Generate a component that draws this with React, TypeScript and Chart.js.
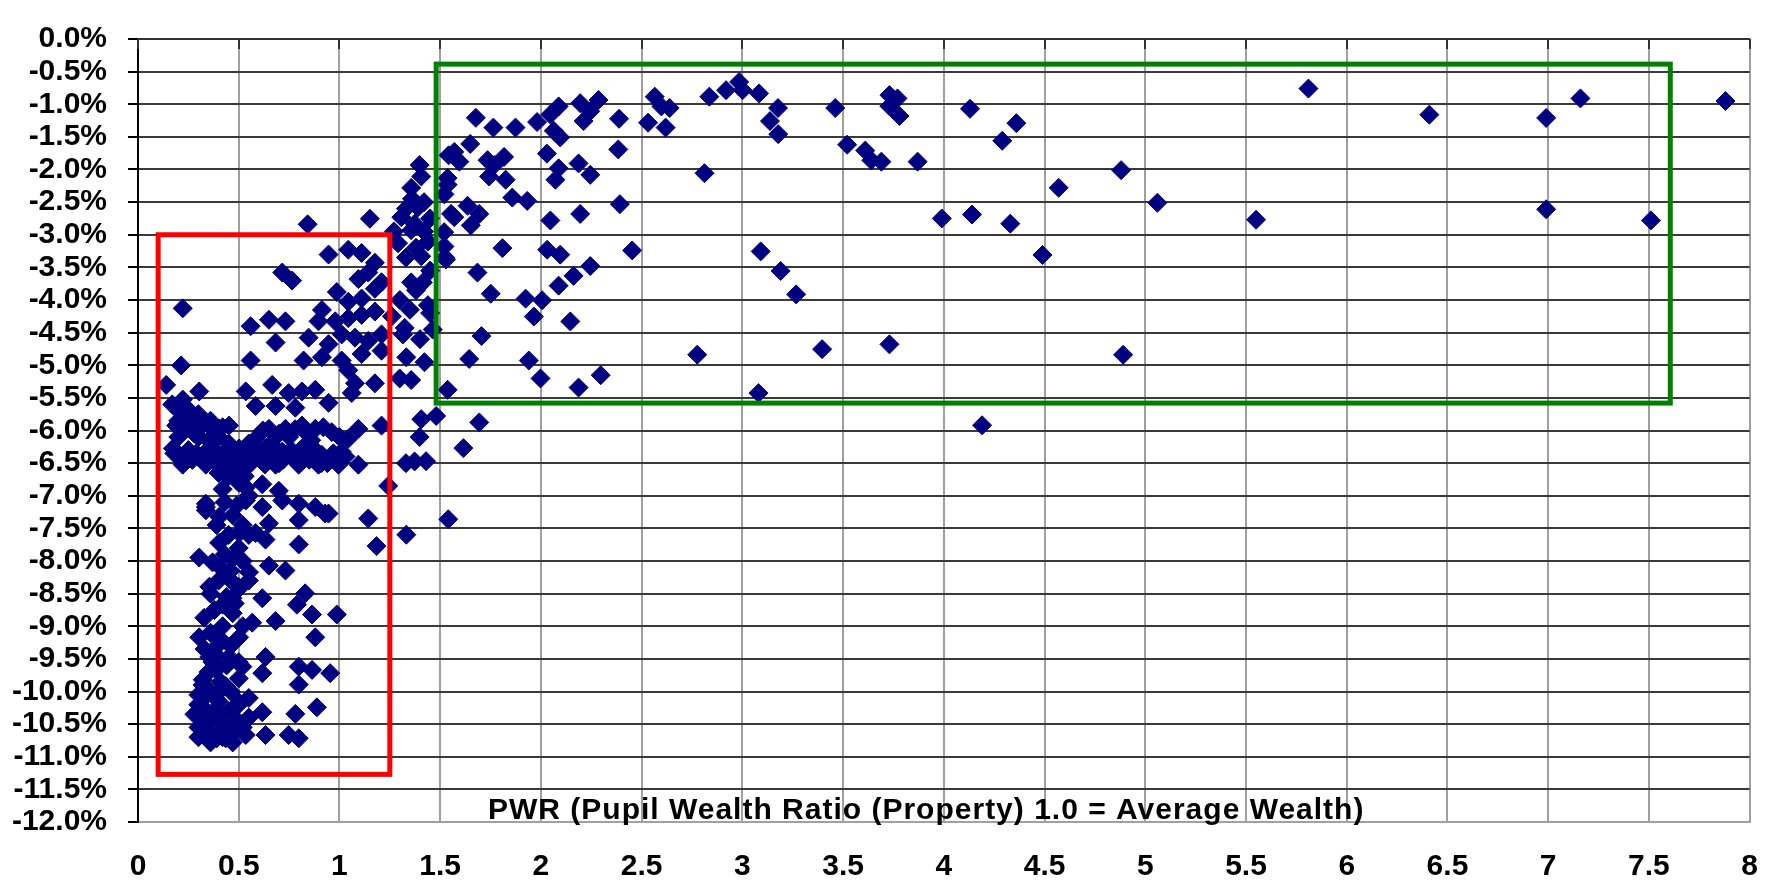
import React, { useEffect, useRef } from "react";
import { Chart, registerables } from "chart.js";

Chart.register(...registerables);

// PWR (x) values
const pwrValues: number[] = [
  // sparse right region
  3.73, 3.77, 3.73, 3.78, 4.13, 4.36, 4.29, 3.52, 3.61, 3.64, 3.69, 3.87, 4.88, 4.57, 5.06, 3.99, 4.14, 4.33, 5.55, 6.99, 7.51, 4.49, 3.73, 4.89, 4.19, 5.81, 6.41, 6.99, 7.16, 7.88,
  // middle region
  1.677, 1.764, 1.874, 1.981, 2.088, 2.047, 2.064, 2.096, 2.195, 2.286, 2.212, 2.245, 2.388, 2.565, 2.598, 2.639, 2.532, 2.619, 2.836, 2.919, 2.984, 3.001, 3.083, 3.177, 3.137, 3.178, 3.461,
  1.649, 1.542, 1.57, 1.595, 1.735, 1.817, 1.768, 1.743, 1.825, 1.858, 1.932, 2.03, 2.384, 2.088, 2.187, 2.245, 2.072, 2.812, 2.392, 2.195, 2.047, 1.636, 1.694, 1.57, 1.652, 1.537, 1.521,
  1.398, 1.356, 1.406, 1.389, 1.307, 1.373, 1.809, 2.031, 2.096, 2.453, 3.091, 3.19, 3.267, 2.245, 2.162, 2.088, 2.006, 1.924, 1.965, 2.146, 1.685, 1.751, 1.705, 1.644, 1.94, 1.998, 2.187, 2.297, 2.776, 3.396, 3.08,
  1.537, 1.694, 1.529, 1.521, 1.439, 1.356, 1.291, 1.406, 1.356, 1.414, 1.439, 1.463, 1.324, 1.315, 1.332, 1.422, 1.299, 1.356, 1.48, 1.406, 1.398, 1.537, 1.554,
  1.54, 1.615, 1.33, 1.43, 1.373, 1.52, 1.525,
  1.36, 1.42, 1.33, 1.45, 1.27, 1.42, 1.38, 1.33, 1.45, 1.38, 1.45, 1.3, 1.26, 1.35, 1.4,
  // left cluster upper
  0.842, 1.151, 0.946, 1.044, 1.11, 1.176, 1.143, 1.094, 0.987, 1.044, 1.11, 1.176, 1.209, 0.913, 0.896, 0.979, 1.044, 1.11, 1.176, 0.847, 0.946, 1.011, 1.077, 1.143, 1.209, 1.209, 0.913, 1.011, 1.11, 1.044, 1.176, 1.077, 1.061, 0.822,
  0.716, 0.765, 0.222, 0.559, 0.65, 0.732, 0.683, 0.559, 0.214, 0.14, 0.666, 0.748, 0.814, 0.88, 0.946, 0.535, 0.304, 0.222, 0.584, 0.683, 0.781, 0.206, 0.255, 0.337, 0.403, 0.452, 0.189,
  0.173, 0.255, 0.337, 0.419, 0.502, 0.584, 0.65, 0.732, 0.814, 0.88, 0.962, 1.044, 1.094, 0.617, 0.716, 0.814, 0.913, 1.011, 1.094, 1.209, 1.242,
  0.222, 0.337, 0.452, 0.535, 0.683, 0.798, 0.896, 0.995, 0.535, 0.617, 0.699, 0.337,
  0.27, 0.37, 0.47, 0.56, 0.64, 0.72, 0.76, 0.85, 0.94, 1.0, 0.66, 0.75, 0.86, 0.55, 0.45, 0.2, 0.3,
  0.18, 0.22, 0.25, 0.29, 0.33, 0.38, 0.41, 0.44, 0.49, 0.52, 0.58, 0.6, 0.63, 0.68, 0.7, 0.78, 0.82, 0.88, 0.91, 0.97, 1.03,
  0.17, 0.21, 0.24, 0.27, 0.3, 0.32, 0.36, 0.38, 0.42, 0.24, 0.2, 0.28, 0.35, 0.4,
  0.62, 0.7, 0.78, 0.84, 0.92, 1.0,
  // left cluster lower
  0.337, 0.403, 0.535, 0.617, 0.716, 0.798, 0.929, 0.88, 0.798, 0.65, 0.584, 1.143, 1.332, 1.184, 0.798, 0.633, 0.502, 0.403, 0.304, 0.37, 0.469, 0.551, 0.65, 0.732, 0.452, 0.354, 0.502, 0.617, 0.42, 0.469,
  0.83, 0.789, 0.864, 0.683, 0.567, 0.987, 0.329, 0.304, 0.88, 0.502, 0.403, 0.452, 0.354, 0.633, 0.518, 0.617, 0.798, 0.864, 0.954, 0.798, 0.387, 0.321, 0.337, 0.436, 0.304, 0.387, 0.502, 0.617, 0.781, 0.888,
  0.337, 0.42, 0.485, 0.354, 0.436, 0.535, 0.633, 0.748, 0.798, 0.337, 0.946,
  0.45, 0.5, 0.42, 0.55, 0.47, 0.52, 0.45, 0.5, 0.43, 0.52, 0.46, 0.4, 0.5, 0.44, 0.38, 0.47, 0.42, 0.36, 0.46, 0.39, 0.44, 0.35, 0.41, 0.46, 0.36, 0.4, 0.45, 0.34, 0.38, 0.44, 0.3, 0.35, 0.48, 0.42, 0.3, 0.32,
  0.4, 0.48, 0.53, 0.43, 0.49, 0.39, 0.55, 0.41, 0.55, 0.36, 0.48, 0.52, 0.41, 0.33, 0.5, 0.37, 0.32, 0.42, 0.5, 0.3, 0.4, 0.48, 0.33, 0.39, 0.45, 0.52, 0.55, 0.5, 0.55, 0.28, 0.3, 0.36, 0.47,
];

// Change (%) values, same order as pwrValues
const changeValues: number[] = [
  -0.86, -0.91, -1.03, -1.18, -1.07, -1.29, -1.56, -1.62, -1.71, -1.86, -1.88, -1.88, -2.01, -2.28, -2.51, -2.75, -2.69, -2.83, -2.77, -2.61, -2.78, -3.31, -4.68, -4.84, -5.92, -0.76, -1.16, -1.21, -0.91, -0.95,
  -1.208, -1.358, -1.358, -1.273, -1.033, -1.158, -1.408, -1.508, -0.983, -0.934, -1.258, -1.108, -1.223, -0.884, -1.033, -1.058, -1.283, -1.358, -0.884, -0.784, -0.659, -0.784, -0.834, -1.058, -1.258, -1.458, -1.058,
  -1.608, -1.783, -1.73, -1.88, -1.857, -1.807, -1.932, -2.107, -2.157, -2.431, -2.481, -1.757, -1.692, -1.982, -1.907, -2.082, -2.157, -2.057, -2.531, -2.681, -2.781, -2.556, -2.681, -2.73, -2.856, -2.232, -2.381,
  -1.932, -2.282, -2.107, -2.581, -2.731, -2.831, -3.205, -3.23, -3.305, -3.24, -3.255, -3.555, -3.914, -3.48, -3.63, -3.78, -4.004, -3.979, -4.254, -4.328, -3.58, -3.904, -4.553, -4.903, -4.927, -5.202, -5.342, -5.152, -4.838, -4.753, -5.427,
  -5.377, -5.876, -3.38, -3.18, -3.105, -2.93, -3.13, -3.33, -3.73, -3.73, -4.079, -4.453, -4.428, -4.528, -4.878, -4.953, -5.202, -5.227, -5.777, -5.826, -6.1, -2.132, -2.68,
  -7.36, -6.27, -6.5, -6.47, -6.474, -2.96, -3.35,
  -2.45, -2.5, -2.6, -2.75, -2.95, -2.95, -3.2, -3.35, -3.55, -3.85, -4.2, -4.0, -4.25, -4.15, -4.6,
  -2.84, -2.755, -3.304, -3.229, -3.279, -3.429, -3.579, -3.679, -3.878, -4.028, -3.978, -3.828, -3.728, -4.153, -4.327, -4.327, -4.278, -4.228, -4.178, -4.577, -4.677, -4.527, -4.577, -4.627, -4.527, -4.777, -4.877, -4.927, -4.827, -5.077, -5.277, -5.277, -5.426, -4.927,
  -3.579, -3.703, -4.128, -4.402, -4.303, -4.327, -4.652, -4.927, -5.002, -5.301, -5.301, -5.426, -5.401, -5.376, -5.576, -5.401, -5.401, -5.526, -5.625, -5.625, -5.65, -5.675, -5.775, -5.875, -5.975, -5.925, -5.925,
  -6.275, -6.374, -6.325, -6.374, -6.275, -6.125, -5.975, -5.975, -5.925, -5.975, -6.025, -6.125, -5.975, -6.374, -6.325, -6.275, -6.374, -6.325, -6.524, -5.925, -6.849,
  -6.524, -6.524, -6.524, -6.474, -6.524, -6.524, -6.524, -6.524, -6.874, -6.824, -6.924, -7.123,
  -6.45, -6.45, -6.4, -6.5, -6.45, -6.45, -6.3, -6.45, -6.5, -6.45, -6.2, -6.1, -6.15, -6.2, -6.2, -6.1, -6.1,
  -6.35, -6.45, -6.3, -6.35, -6.42, -6.3, -6.45, -6.35, -6.48, -6.35, -6.42, -6.3, -6.52, -6.35, -6.5, -6.45, -6.35, -6.3, -6.5, -6.35, -6.4,
  -5.6, -5.72, -5.65, -5.82, -5.75, -5.92, -5.85, -6.0, -5.95, -5.95, -5.85, -6.05, -6.15, -6.1,
  -6.0, -6.05, -5.98, -6.05, -5.95, -6.1,
  -7.223, -7.323, -7.073, -7.173, -7.073, -7.123, -7.273, -7.173, -7.373, -7.423, -7.572, -7.348, -7.597, -7.772, -7.747, -7.672, -7.572, -7.722, -7.947, -8.021, -7.971, -8.171, -8.071, -8.146, -8.271, -8.396, -8.421, -8.571, -8.67, -8.571,
  -8.496, -8.67, -8.82, -8.92, -8.945, -8.82, -8.87, -9.17, -9.17, -9.17, -9.27, -9.47, -9.47, -9.47, -9.619, -9.719, -9.619, -9.669, -9.719, -9.894, -9.669, -9.819, -10.068, -9.919, -10.218, -10.268, -10.168, -10.318, -10.343, -10.243,
  -10.468, -10.518, -10.418, -10.717, -10.717, -10.667, -10.667, -10.667, -10.717, -7.173, -7.273,
  -6.7, -6.8, -6.9, -7.0, -7.3, -7.45, -7.6, -7.8, -7.9, -8.0, -8.15, -8.3, -8.4, -8.55, -8.75, -8.8, -9.0, -9.1, -9.3, -9.45, -9.6, -9.7, -9.85, -10.0, -10.0, -10.15, -10.3, -10.3, -10.4, -10.55, -10.55, -10.6, -10.6, -10.7, -10.2, -10.45,
  -6.65, -6.6, -6.7, -7.1, -7.15, -7.45, -7.6, -8.1, -8.3, -8.5, -8.65, -9.0, -9.2, -9.35, -9.55, -9.55, -9.9, -9.95, -9.8, -10.05, -10.35, -10.45, -10.62, -10.72, -10.7, -10.55, -10.4, -10.2, -10.1, -10.35, -10.7, -10.78, -10.78,
];

// Highlight boxes: [xMin, xMax, yTop, yBottom]
const redBox: number[] = [0.1, 1.25, -3.0, -11.27];
const greenBox: number[] = [1.48, 7.606, -0.385, -5.58];

const xTickStep = 0.5;
const yTickStep = 0.5;
const axisTitle = "PWR (Pupil Wealth Ratio (Property) 1.0 = Average Wealth)";

const FONT = '"Liberation Sans", Arial, sans-serif';

export default function App() {
  const canvasRef = useRef<HTMLCanvasElement | null>(null);

  useEffect(() => {
    const canvas = canvasRef.current;
    if (!canvas) return;
    const points = pwrValues.map((x, i) => ({ x, y: changeValues[i] }));

    const overlay = {
      id: "overlay",
      afterDatasetsDraw(chart: any) {
        const { ctx, chartArea, scales } = chart;
        const xs = scales.x;
        const ys = scales.y;
        ctx.save();
        // top axis line with inside ticks
        ctx.strokeStyle = "#333333";
        ctx.lineWidth = 2;
        ctx.beginPath();
        ctx.moveTo(chartArea.left, chartArea.top);
        ctx.lineTo(chartArea.right, chartArea.top);
        ctx.stroke();
        for (let v = 0; v <= 8 + 1e-9; v += xTickStep) {
          const px = Math.round(xs.getPixelForValue(v));
          ctx.beginPath();
          ctx.moveTo(px, chartArea.top);
          ctx.lineTo(px, chartArea.top + 10);
          ctx.stroke();
        }
        // boxes
        const drawBox = (b: number[], color: string) => {
          const x1 = xs.getPixelForValue(b[0]);
          const x2 = xs.getPixelForValue(b[1]);
          const y1 = ys.getPixelForValue(b[2]);
          const y2 = ys.getPixelForValue(b[3]);
          ctx.strokeStyle = color;
          ctx.lineWidth = 5;
          ctx.strokeRect(x1, y1, x2 - x1, y2 - y1);
        };
        drawBox(redBox, "#ff0000");
        drawBox(greenBox, "#008000");
        // axis title inside plot
        ctx.fillStyle = "#000000";
        ctx.font = `bold 30px ${FONT}`;
        (ctx as any).letterSpacing = "1px";
        ctx.textAlign = "left";
        ctx.textBaseline = "alphabetic";
        ctx.fillText(axisTitle, chartArea.left + 350, chartArea.bottom - 3);
        ctx.restore();
      },
    };

    const chart = new Chart(canvas, {
      type: "scatter",
      data: {
        datasets: [
          {
            data: points,
            pointStyle: "rectRot",
            pointRadius: 9.5,
            pointHoverRadius: 9.5,
            pointBackgroundColor: "#000080",
            pointBorderColor: "#000080",
            pointBorderWidth: 1,
          },
        ],
      },
      options: {
        animation: false,
        responsive: false,
        devicePixelRatio: 1,
        events: [],
        layout: { padding: { top: 21, right: 25, left: 0, bottom: 0 } },
        plugins: { legend: { display: false }, tooltip: { enabled: false }, title: { display: false } },
        scales: {
          x: {
            type: "linear",
            min: 0,
            max: 8,
            position: "bottom",
            afterFit: (s: any) => {
              s.height = 62;
            },
            ticks: {
              stepSize: xTickStep,
              autoSkip: false,
              maxRotation: 0,
              padding: 27,
              color: "#000000",
              font: { family: FONT, size: 30, weight: "bold" },
              callback: (v: any) => String(Number(v)),
            },
            grid: { color: "#a0a0a0", lineWidth: 2, drawTicks: false },
            border: { color: "#a0a0a0", width: 2 },
          },
          y: {
            type: "linear",
            min: -12,
            max: 0,
            afterFit: (s: any) => {
              s.width = 138;
            },
            ticks: {
              stepSize: yTickStep,
              autoSkip: false,
              padding: 21,
              color: "#000000",
              font: { family: FONT, size: 30, weight: "bold" },
              callback: (v: any) => Number(v).toFixed(1) + "%",
            },
            grid: {
              color: (c: any) => (c.tick && c.tick.value === -12 ? "#a0a0a0" : "#3a3a3a"),
              lineWidth: 2,
              tickLength: 10,
              tickColor: "#000000",
              drawTicks: true,
            },
            border: { color: "#000000", width: 2 },
          },
        },
      },
      plugins: [overlay],
    });

    return () => chart.destroy();
  }, []);

  return (
    <div style={{ position: "fixed", left: 0, top: 0, width: 1785, height: 884, background: "#ffffff" }}>
      <canvas ref={canvasRef} width={1785} height={884} style={{ width: 1785, height: 884, display: "block" }} />
    </div>
  );
}
